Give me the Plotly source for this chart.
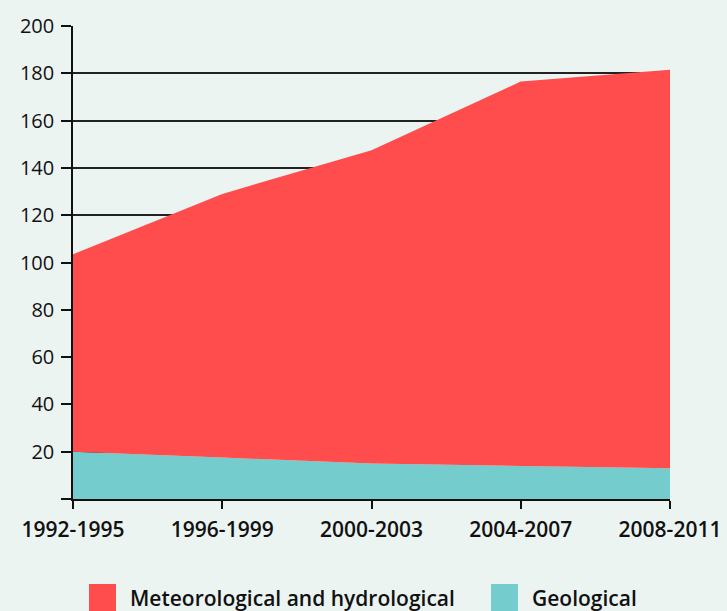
import plotly.graph_objects as go

periods = ["1992-1995", "1996-1999", "2000-2003", "2004-2007", "2008-2011"]
geological = [20, 17.5, 15, 14, 13]
meteo_hydro = [83.5, 111.5, 132.5, 162.5, 168.5]
y_ticks = [0, 20, 40, 60, 80, 100, 120, 140, 160, 180, 200]
y_tick_labels = ["" if v == 0 else str(v) for v in y_ticks]

RED = "#ff4d4d"
TEAL = "#74cccc"
BG = "#ecf4f2"
FONT = "Open Sans"

W, H = 727, 611
L, R, T, B = 73, 57, 26, 112
pw, ph = W - L - R, H - T - B

def px(x):
    return (x - L) / pw

def py(y):
    return (H - B - y) / ph

fig = go.Figure()
fig.add_trace(go.Scatter(
    x=periods, y=geological, name="Geological", stackgroup="one",
    mode="none", fillcolor=TEAL, showlegend=False))
fig.add_trace(go.Scatter(
    x=periods, y=meteo_hydro, name="Meteorological and hydrological", stackgroup="one",
    mode="none", fillcolor=RED, showlegend=False))

fig.update_layout(
    width=W, height=H,
    margin=dict(l=L, r=R, t=T, b=B, autoexpand=False),
    paper_bgcolor=BG, plot_bgcolor="rgba(0,0,0,0)",
    font=dict(family=FONT, color="#111111"),
    xaxis=dict(
        type="category", range=[0, len(periods) - 1],
        showgrid=False, showline=True, linecolor="#111111", linewidth=1.5,
        ticks="outside", ticklen=8, tickwidth=1.5, tickcolor="#111111",
        tickfont=dict(size=21, family=FONT, weight=600),
        ticklabelstandoff=3,
        zeroline=False,
    ),
    yaxis=dict(
        range=[0, 200], tickvals=y_ticks, ticktext=y_tick_labels,
        showgrid=True, gridcolor="#222222", gridwidth=1.5,
        showline=True, linecolor="#111111", linewidth=1.5,
        ticks="outside", ticklen=10, tickwidth=1.5, tickcolor="#111111",
        tickfont=dict(size=20, family=FONT),
        ticklabelstandoff=3,
        zeroline=False,
    ),
)

# Custom legend (large square swatches)
legend_items = [("Meteorological and hydrological", RED, 89), ("Geological", TEAL, 491)]
for label, color, x0 in legend_items:
    fig.add_shape(type="rect", xref="paper", yref="paper",
                  x0=px(x0), x1=px(x0 + 27), y0=py(611), y1=py(584),
                  fillcolor=color, line=dict(width=0))
    fig.add_annotation(xref="paper", yref="paper", x=px(x0 + 39), y=py(598),
                       text=label, showarrow=False, xanchor="left", yanchor="middle",
                       font=dict(size=21, family=FONT, weight=600, color="#111111"))

fig.write_html("out.html", config={"displayModeBar": False},
               post_script="document.body.style.margin='0px';document.body.style.overflow='hidden';")
